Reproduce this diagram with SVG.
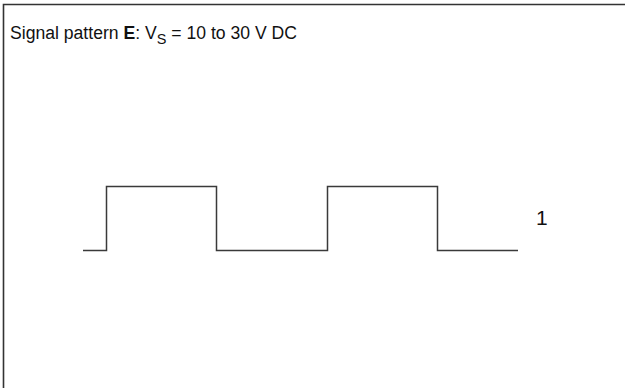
<svg xmlns="http://www.w3.org/2000/svg" width="625" height="388" viewBox="0 0 625 388">
<style>
.frame{stroke:#333;stroke-width:1.6;fill:none}
.wave{stroke:#3a3a3a;stroke-width:1.5;fill:none}
.t{font-family:"Liberation Sans",Arial,sans-serif;fill:#111}
</style>
<rect width="625" height="388" fill="#fff"/>
<g id="frame">
<path class="frame" d="M3.5,388 V4.5 H625"/>
</g>
<g id="title">
<text class="t" x="10" y="38.5" font-size="17.6">Signal pattern <tspan font-weight="bold">E</tspan>: V<tspan font-size="14.5" dy="5">S</tspan><tspan dy="-5"> = 10 to 30 V DC</tspan></text>
</g>
<g id="signal">
<path class="wave" d="M83,250.5 H106.5 V186.5 H216.5 V250.5 H327.5 V186.5 H437.5 V250.5 H518"/>
</g>
<g id="label1">
<text class="t" x="536" y="224.5" font-size="21">1</text>
</g>
</svg>
